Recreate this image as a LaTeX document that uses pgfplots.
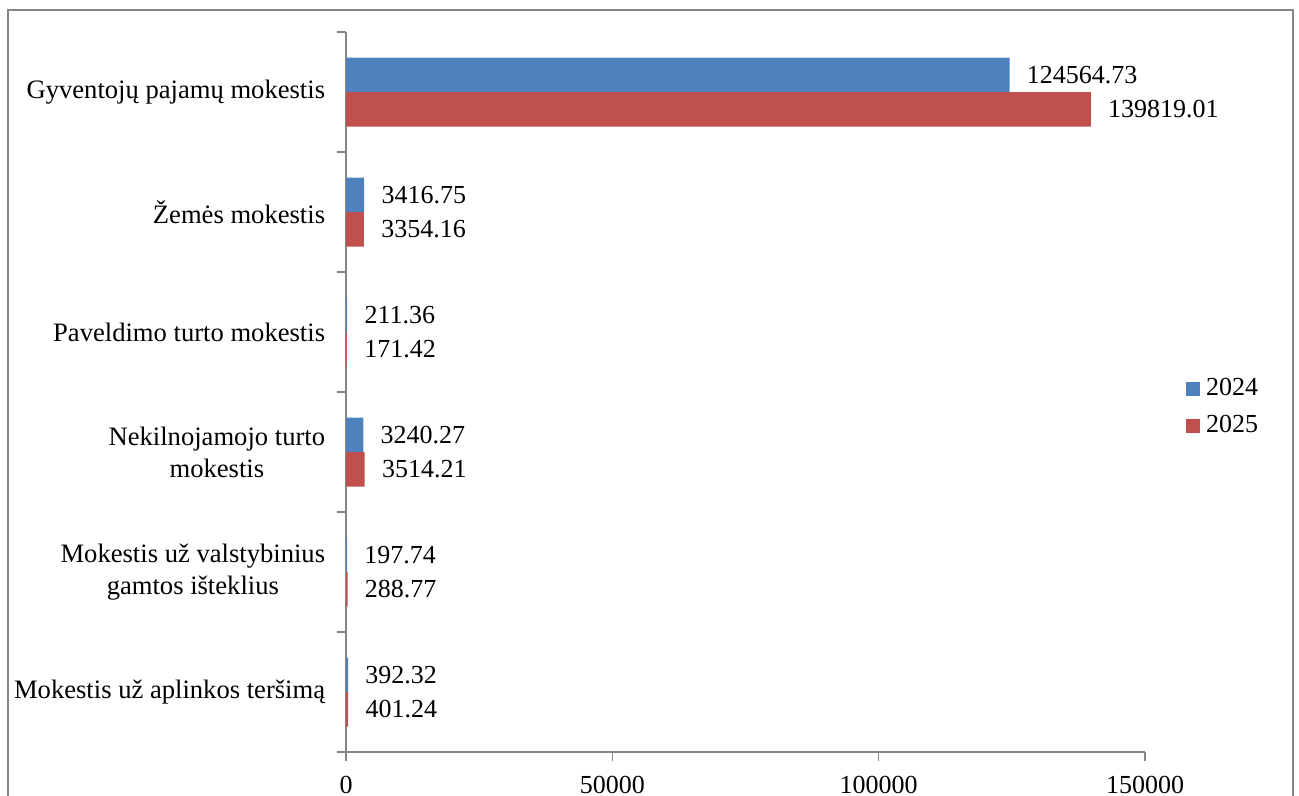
\documentclass[border=0pt]{standalone}
\usepackage{fontspec}
\setmainfont{Liberation Serif}
\usepackage{pgfplots}
\pgfplotsset{compat=1.18}
\definecolor{bar24}{HTML}{4F81BD}
\definecolor{bar25}{HTML}{C0504D}
\definecolor{framegray}{HTML}{868686}
\newcommand{\lab}{\fontsize{13}{15}\selectfont}
\newcommand{\cat}{\fontsize{13.3}{16}\selectfont}
\pgfplotsset{sqlegend/.style={legend image code/.code={%
  \fill[##1] (0pt,-3.5pt) rectangle (7pt,3.5pt); \path (10pt,0pt);}}}

\begin{document}
\begin{tikzpicture}
\path[use as bounding box] (0pt,0pt) rectangle (649.5pt,-398pt);
\draw[framegray, line width=1pt] (3.75pt,-410pt) -- (3.75pt,-5.25pt) -- (646.5pt,-5.25pt) -- (646.5pt,-410pt);
\begin{axis}[
    at={(173pt,-376pt)}, anchor=south west,
    scale only axis, width=399.5pt, height=360pt,
    xbar=0pt, bar width=0.2875,
    xmin=0, xmax=150000, ymin=-0.5, ymax=5.5, y dir=reverse,
    axis x line*=bottom, axis y line*=left,
    axis line style={framegray, line width=0.75pt, -},
    tick style={framegray, line width=0.75pt},
    tick align=outside, major tick length=4.25pt,
    scaled x ticks=false,
    xtick={0,50000,100000,150000},
    ytick={-0.5,0.5,...,5.5},
    yticklabels={Gyventojų pajamų mokestis, Žemės mokestis, Paveldimo turto mokestis,
      {Nekilnojamojo turto\\mokestis}, {Mokestis už valstybinius\\gamtos išteklius},
      Mokestis už aplinkos teršimą, {}},
    /pgf/number format/fixed,
    /pgf/number format/assume math mode=true,
    /pgf/number format/1000 sep={},
    tick label style={font=\lab},
    yticklabel style={font=\cat, align=center, inner sep=0pt, xshift=-6pt, yshift=-30pt},
    xticklabel style={inner sep=0pt, yshift=-7.5pt},
    point meta=explicit symbolic,
    nodes near coords,
    nodes near coords style={font=\lab, anchor=west, inner sep=0pt, xshift=8.5pt},
    legend style={draw=none, fill=none, inner sep=0pt, outer sep=0pt,
      at={(1.0513,0.5189)}, anchor=north west, font=\lab,
      row sep=8.4pt, nodes={inner sep=0pt}},
  ]
  \addplot[fill=bar24, draw=none, sqlegend]
    coordinates {
      (124564.73,0) [124564.73]
      (3416.75,1) [3416.75]
      (211.36,2) [211.36]
      (3240.27,3) [3240.27]
      (197.74,4) [197.74]
      (392.32,5) [392.32]
    };
  \addplot[fill=bar25, draw=none, sqlegend]
    coordinates {
      (139819.01,0) [139819.01]
      (3354.16,1) [3354.16]
      (171.42,2) [171.42]
      (3514.21,3) [3514.21]
      (288.77,4) [288.77]
      (401.24,5) [401.24]
    };
  \legend{2024,2025}
\end{axis}
\end{tikzpicture}
\end{document}
